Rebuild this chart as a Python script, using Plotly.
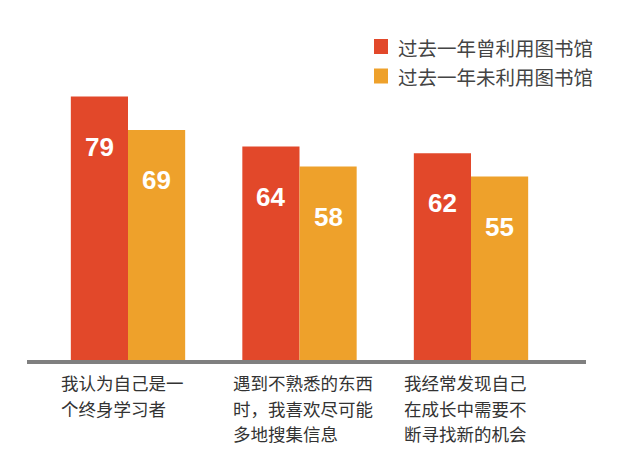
import plotly.graph_objects as go

categories = [["我认为自己是一", "个终身学习者"],
              ["遇到不熟悉的东西", "时，我喜欢尽可能", "多地搜集信息"],
              ["我经常发现自己", "在成长中需要不", "断寻找新的机会"]]
series_names = ["过去一年曾利用图书馆", "过去一年未利用图书馆"]
used_values = [79, 64, 62]
unused_values = [69, 58, 55]
colors = ["#E2482A", "#EEA12B"]

FONT = "Noto Sans CJK SC, sans-serif"
xs = list(range(len(categories)))
PLOT_TOP, PLOT_H = 20, 340

def py(p):  # pixel row -> paper y
    return (PLOT_TOP + PLOT_H - p) / PLOT_H

fig = go.Figure()
for name, vals, col in zip(series_names, [used_values, unused_values], colors):
    fig.add_trace(go.Bar(x=xs, y=vals, name=name, marker=dict(color=col, line=dict(width=0)),
                         hoverinfo="skip", showlegend=False))

# value labels inside bars
offsets = [-1/6, 1/6]
for vals, off in zip([used_values, unused_values], offsets):
    for i, v in zip(xs, vals):
        fig.add_annotation(x=i + off, y=v, yshift=-50, text=f"<b>{v}</b>", showarrow=False,
                           font=dict(family="Liberation Sans, Arial, sans-serif", size=26, color="white"),
                           xanchor="center", yanchor="middle")

# category labels (one annotation per line for the wider line spacing)
for i, lines in zip(xs, categories):
    for k, line in enumerate(lines):
        fig.add_annotation(x=i - 0.40, y=0, yshift=-22.5 - 25.5 * k, text=line, showarrow=False,
                           xanchor="left", yanchor="middle",
                           font=dict(family=FONT, size=17.5, color="#333333"))

# baseline
fig.add_shape(type="line", xref="paper", yref="paper", x0=27/640, x1=586/640,
              y0=py(362), y1=py(362), line=dict(color="#7F7F7F", width=4))

# legend
for k, (name, col) in enumerate(zip(series_names, colors)):
    top = 39 + 29.5 * k
    fig.add_shape(type="rect", xref="paper", yref="paper", x0=374/640, x1=388/640,
                  y0=py(top + 15), y1=py(top), fillcolor=col, line=dict(width=0))
    fig.add_annotation(xref="paper", yref="paper", x=396/640, y=py(top + 8), text=name,
                       showarrow=False, xanchor="left", yanchor="middle",
                       font=dict(family=FONT, size=19.5, color="#444444"))

fig.update_layout(
    width=640, height=461,
    margin=dict(l=0, r=0, t=PLOT_TOP, b=461 - PLOT_TOP - PLOT_H),
    paper_bgcolor="#FFFFFF", plot_bgcolor="#FFFFFF",
    barmode="group", bargap=1/3, bargroupgap=0,
    xaxis=dict(range=[-128/171.5, (640-128)/171.5], showticklabels=False, showgrid=False,
               zeroline=False, showline=False, fixedrange=True),
    yaxis=dict(range=[0, PLOT_H/3.335], showticklabels=False, showgrid=False,
               zeroline=False, showline=False, fixedrange=True),
    showlegend=False,
    font=dict(family=FONT),
)

fig.write_html("out.html")
